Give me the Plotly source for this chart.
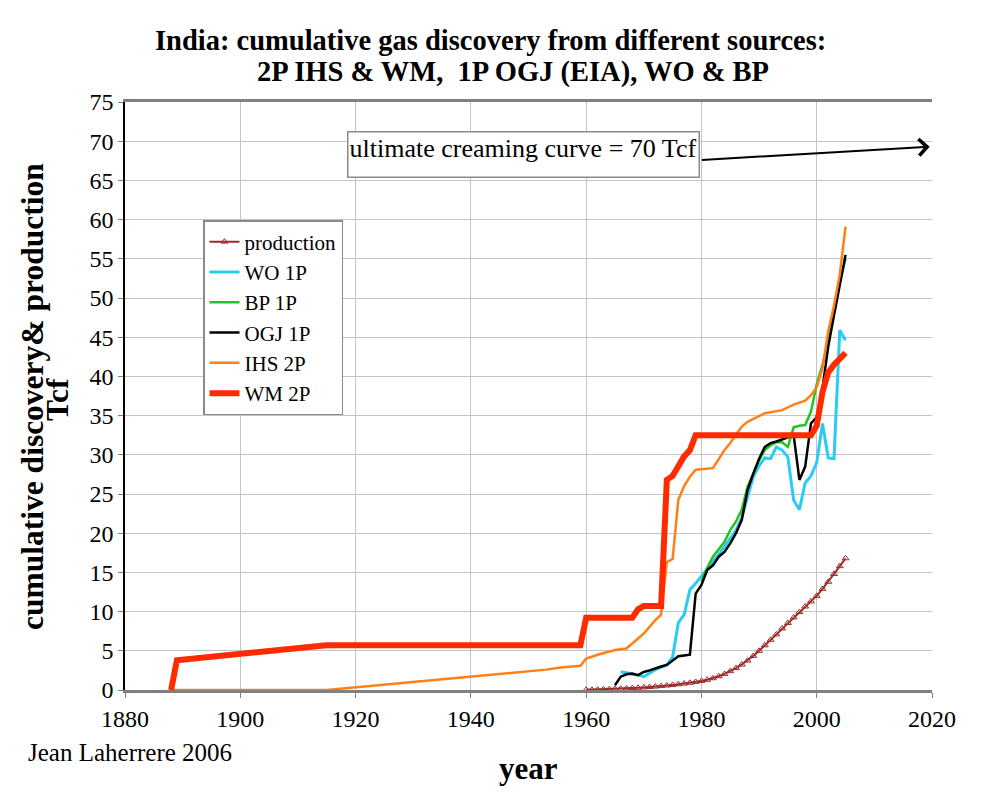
import plotly.graph_objects as go

# ---------------- data ----------------
prod_years = list(range(1960, 2006))
prod_vals = [0.02, 0.04, 0.06, 0.08, 0.10, 0.13, 0.16, 0.20, 0.24, 0.28,
             0.33, 0.38, 0.44, 0.50, 0.57, 0.65, 0.73, 0.82, 0.92, 1.03,
             1.15, 1.30, 1.50, 1.75, 2.05, 2.40, 2.80, 3.25, 3.75, 4.35,
             5.00, 5.70, 6.40, 7.10, 7.85, 8.55, 9.25, 9.95, 10.65, 11.30,
             12.00, 12.90, 13.80, 14.80, 15.80, 16.80]

wo_years = [1966, 1967, 1968, 1969, 1970, 1971, 1972, 1973, 1974, 1975, 1976, 1977,
            1978, 1979, 1980, 1981, 1982, 1983, 1984, 1985, 1986, 1987, 1988, 1989,
            1990, 1991, 1992, 1993, 1994, 1995, 1996, 1997, 1998, 1999, 2000, 2001,
            2002, 2003, 2004, 2005]
wo_vals = [2.3, 2.2, 2.0, 1.9, 1.7, 2.2, 2.6, 2.9, 3.2, 4.2, 8.6, 9.6,
           12.8, 13.6, 14.5, 15.5, 16.4, 17.3, 18.3, 19.4, 20.4, 22.0, 24.7, 27.2,
           28.6, 29.6, 29.5, 31.0, 30.6, 29.7, 24.2, 23.0, 26.4, 27.3, 29.0, 34.0,
           29.6, 29.5, 45.9, 44.6]

bp_years = [1980, 1981, 1982, 1983, 1984, 1985, 1986, 1987, 1988, 1989, 1990,
            1991, 1992, 1993, 1994, 1995, 1996, 1997, 1998, 1999, 2000, 2001,
            2002, 2003, 2004, 2005]
bp_vals = [13.8, 15.6, 17.0, 18.0, 18.9, 20.4, 21.5, 23.0, 25.9, 27.6, 29.3,
           30.6, 31.2, 31.6, 31.6, 31.0, 33.5, 33.7, 33.8, 35.5, 39.0, 41.5,
           44.5, 48.5, 52.0, 55.0]

ogj_years = [1965, 1966, 1967, 1968, 1969, 1970, 1971, 1972, 1973, 1974, 1975, 1976,
             1977, 1978, 1979, 1980, 1981, 1982, 1983, 1984, 1985, 1986, 1987, 1988,
             1989, 1990, 1991, 1992, 1993, 1994, 1995, 1996, 1997, 1998, 1999, 2000,
             2001, 2002, 2003, 2004, 2005]
ogj_vals = [0.6, 1.7, 2.0, 2.1, 1.9, 2.3, 2.5, 2.8, 3.0, 3.2, 3.8, 4.3,
            4.4, 4.5, 12.3, 13.4, 15.3, 15.9, 17.0, 17.6, 18.7, 20.0, 21.7, 25.5,
            27.6, 29.5, 31.0, 31.5, 31.7, 32.0, 32.3, 32.5, 26.8, 28.5, 34.0, 34.8,
            38.5, 43.8, 47.8, 51.5, 55.5]

ihs_years = [1888, 1915, 1953, 1956, 1959, 1960, 1962, 1965, 1967, 1969, 1970, 1972,
             1973, 1974, 1975, 1976, 1977, 1978, 1979, 1982, 1984, 1985, 1987, 1988,
             1991, 1994, 1996, 1998, 1999, 2000, 2001, 2002, 2003, 2004, 2005]
ihs_vals = [0.0, 0.0, 2.6, 2.9, 3.1, 4.0, 4.5, 5.1, 5.3, 6.6, 7.2, 8.9,
            9.6, 16.3, 16.7, 24.3, 26.0, 27.2, 28.1, 28.3, 30.6, 31.5, 33.6, 34.2,
            35.3, 35.7, 36.4, 36.9, 37.6, 38.6, 41.0, 45.8, 49.0, 53.0, 59.1]

wm_years = [1888, 1889, 1915, 1959, 1960, 1968, 1969, 1970, 1973, 1974, 1975, 1976,
            1977, 1978, 1979, 1999, 2000, 2001, 2002, 2003, 2004, 2005]
wm_vals = [0.0, 3.8, 5.7, 5.7, 9.2, 9.2, 10.3, 10.7, 10.7, 26.8, 27.3, 28.5,
           29.8, 30.6, 32.5, 32.5, 33.7, 38.0, 40.5, 41.5, 42.4, 43.0]

x_ticks = [1880, 1900, 1920, 1940, 1960, 1980, 2000, 2020]
y_ticks = list(range(0, 80, 5))

SERIF = "Liberation Serif, Times New Roman, serif"

# page geometry: the page body has an 8px margin, so the figure is shifted
OFF = 8
W, H = 997 - OFF, 794 - OFF
# plot area in page pixels
L, R, T, B = 125, 932, 102, 690
PW, PH = R - L, B - T


def px(xp):
    return (xp - L) / PW


def py(yp):
    return (B - yp) / PH


fig = go.Figure()

fig.add_trace(go.Scatter(x=prod_years, y=prod_vals, name="production",
                         mode="lines+markers",
                         line=dict(color="#9e2a2a", width=2),
                         marker=dict(symbol="triangle-up-open", size=6,
                                     color="#9e2a2a", line=dict(width=1))))
fig.add_trace(go.Scatter(x=wo_years, y=wo_vals, name="WO 1P", mode="lines",
                         line=dict(color="#29ccf5", width=3)))
fig.add_trace(go.Scatter(x=bp_years, y=bp_vals, name="BP 1P", mode="lines",
                         line=dict(color="#22c322", width=2.5)))
fig.add_trace(go.Scatter(x=ogj_years, y=ogj_vals, name="OGJ 1P", mode="lines",
                         line=dict(color="#000000", width=2.5)))
fig.add_trace(go.Scatter(x=ihs_years, y=ihs_vals, name="IHS 2P", mode="lines",
                         line=dict(color="#ff8016", width=2.5)))
fig.add_trace(go.Scatter(x=wm_years, y=wm_vals, name="WM 2P", mode="lines",
                         line=dict(color="#ff2a00", width=6)))

fig.update_layout(
    width=W, height=H,
    margin=dict(l=L - OFF, r=997 - R, t=T - OFF, b=794 - B, autoexpand=False),
    paper_bgcolor="white", plot_bgcolor="white",
    font=dict(family=SERIF, color="black", size=20),
    showlegend=True,
    legend=dict(x=px(203), y=py(220), xanchor="left", yanchor="top",
                bgcolor="white", bordercolor="#8a8a8a", borderwidth=1.5,
                font=dict(family=SERIF, size=21, color="black"),
                tracegroupgap=0, itemwidth=30,
                entrywidth=140, entrywidthmode="pixels"),
    xaxis=dict(range=[1880, 2020], tickvals=x_ticks,
               ticktext=[str(v) for v in x_ticks],
               showgrid=True, gridcolor="#c4c4c4", gridwidth=1,
               showline=True, linecolor="#808080", linewidth=2.5, mirror=True,
               ticks="outside", ticklen=5, tickcolor="#808080",
               tickfont=dict(family=SERIF, size=24), zeroline=False),
    yaxis=dict(range=[0, 75], tickvals=y_ticks,
               ticktext=[str(v) for v in y_ticks],
               showgrid=True, gridcolor="#c4c4c4", gridwidth=1,
               showline=True, linecolor="black", linewidth=1.5,
               ticks="outside", ticklen=5, tickcolor="#808080",
               tickfont=dict(family=SERIF, size=24), zeroline=False),
)

annots = [
    dict(text="<b>India: cumulative gas discovery from different sources:</b>",
         xref="paper", yref="paper", x=px(490), y=py(40),
         xanchor="center", yanchor="middle", showarrow=False,
         font=dict(family=SERIF, size=28.5)),
    dict(text="<b>2P IHS & WM,  1P OGJ (EIA), WO & BP</b>",
         xref="paper", yref="paper", x=px(513), y=py(72),
         xanchor="center", yanchor="middle", showarrow=False,
         font=dict(family=SERIF, size=28.5)),
    dict(text="<b>cumulative discovery& production</b>",
         xref="paper", yref="paper", x=px(32), y=py(397),
         xanchor="center", yanchor="middle", showarrow=False, textangle=-90,
         font=dict(family=SERIF, size=31.5)),
    dict(text="<b>Tcf</b>",
         xref="paper", yref="paper", x=px(57), y=py(400),
         xanchor="center", yanchor="middle", showarrow=False, textangle=-90,
         font=dict(family=SERIF, size=31.5)),
    dict(text="<b>year</b>", xref="paper", yref="paper",
         x=px(528), y=py(768),
         xanchor="center", yanchor="middle", showarrow=False,
         font=dict(family=SERIF, size=31)),
    dict(text="Jean Laherrere 2006", xref="paper", yref="paper",
         x=px(26), y=py(752),
         xanchor="left", yanchor="middle", showarrow=False,
         font=dict(family=SERIF, size=25)),
    dict(text="ultimate creaming curve = 70 Tcf", xref="x", yref="y",
         x=1949.2, y=68.3, xanchor="center", yanchor="middle", showarrow=False,
         width=348, height=42, align="left", valign="top",
         bgcolor="white", bordercolor="#8a8a8a", borderwidth=1.5, borderpad=1,
         font=dict(family=SERIF, size=26)),
    dict(text="", xref="x", yref="y", x=2019.6, y=69.3,
         axref="x", ayref="y", ax=1979.8, ay=67.6,
         showarrow=True, arrowhead=4, arrowsize=1.6, arrowwidth=2,
         arrowcolor="black"),
]
fig.update_layout(annotations=annots)

fig.write_html("out.html")
